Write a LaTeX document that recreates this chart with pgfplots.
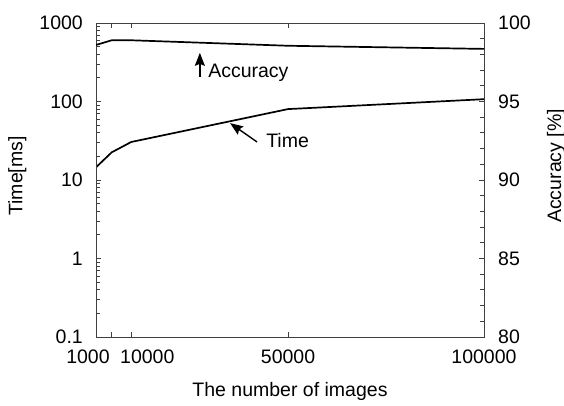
\documentclass[border=0pt]{standalone}
\usepackage{fontspec}
\setmainfont{Liberation Sans}
\usepackage{pgfplots}
\pgfplotsset{compat=1.18}
\usetikzlibrary{arrows.meta}

\begin{document}
\begin{tikzpicture}
\pgfplotsset{
  every axis/.append style={
    scale only axis, width=388pt, height=314pt,
    axis line style={black!75, line width=0.8pt},
    tick style={black!75, line width=0.8pt},
    major tick length=5pt, minor tick length=3.5pt,
    tick align=inside,
    font=\fontsize{19.5}{23}\selectfont,
    /pgf/number format/assume math mode=true,
    xmin=1000, xmax=100000,
    scaled x ticks=false,
  },
}
% time (left, log)
\begin{axis}[
  at={(0,0)}, anchor=south west,
  ymode=log, ymin=0.1, ymax=1000,
  ytick={0.1,1,10,100,1000},
  yticklabels={0.1,1,10,100,1000},
  ytick pos=left,
  yticklabel style={inner sep=0pt, xshift=-13pt},
  xtick={1000,5000,10000,50000,100000},
  xticklabels={{\hbox{1000\kern16pt}},{},{\hbox{\kern32pt 10000}},50000,100000},
  xtick pos=both, xticklabel pos=lower,
  xticklabel style={inner sep=0pt, yshift=-13pt},
  xlabel={The number of images},
  xlabel style={at={(axis description cs:0.5,-0.172)}, anchor=center},
  ylabel={Time[ms]},
  ylabel style={at={(axis description cs:-0.203,0.513)}, anchor=center, rotate=0},
]
\addplot[black, line width=1.7pt] coordinates {
  (1000,14.5) (5000,22.5) (10000,30.5) (50000,80) (100000,107)
};
\draw[-{Stealth[length=13pt,width=10pt,inset=2pt]}, line width=1.4pt]
  (axis cs:42100,30.5) -- (axis cs:35200,53);
\node[anchor=base west, inner sep=0pt] at (axis cs:44400,25.6) {Time};
\end{axis}
% accuracy (right, linear)
\begin{axis}[
  at={(0,0)}, anchor=south west,
  ymin=80, ymax=100,
  ytick={80,85,90,95,100},
  minor y tick num=4,
  ytick pos=right, yticklabel pos=right,
  yticklabel style={inner sep=0pt, xshift=14pt},
  xtick=\empty,
  ylabel={Accuracy [\%]},
  ylabel style={at={(axis description cs:1.186,0.545)}, anchor=center, rotate=0},
]
\addplot[black, line width=1.7pt] coordinates {
  (1000,98.6) (5000,98.9) (10000,98.9) (50000,98.55) (100000,98.35)
};
\draw[-{Stealth[length=13pt,width=10pt,inset=2pt]}, line width=1.4pt]
  (axis cs:27500,96.55) -- (axis cs:27500,98.1);
\node[anchor=base west, inner sep=0pt] at (axis cs:29600,96.5) {Accuracy};
\end{axis}
\pgfresetboundingbox
\path (-96pt,-69pt) rectangle (468pt,337pt);
\end{tikzpicture}
\end{document}
